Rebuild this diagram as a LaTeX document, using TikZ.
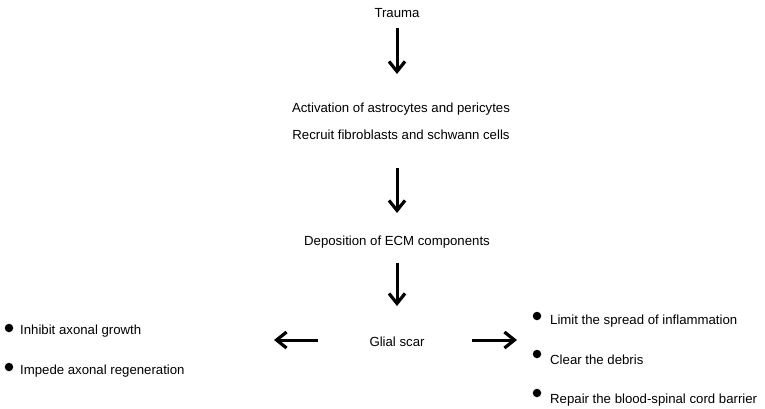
\documentclass[tikz,border=0pt]{standalone}
\usepackage{fontspec}
\setmainfont{Liberation Sans}
\usetikzlibrary{arrows.meta}
\begin{document}
\begin{tikzpicture}[x=1pt,y=-1pt,
  lbl/.style={inner sep=0pt,anchor=base,font=\fontsize{13.2}{15}\selectfont},
  item/.style={inner sep=0pt,anchor=base west,font=\fontsize{13.2}{15}\selectfont},
  dot/.style={circle,fill=black,inner sep=0pt,minimum size=8.5pt},
  flow/.style={line width=3pt,-{Straight Barb[length=10pt,width=16pt,line width=3.2pt]}}]
\useasboundingbox (0,0) rectangle (765,408);
% main column
\node[lbl] (trauma) at (397,17) {Trauma};
\node[lbl] (act) at (401,112) {Activation of astrocytes and pericytes};
\node[lbl] (rec) at (401,139) {Recruit fibroblasts and schwann cells};
\node[lbl] (dep) at (397,245) {Deposition of ECM components};
\node[lbl] (glial) at (397,346) {Glial scar};
% arrow ends
\coordinate (a1s) at (397,28);  \coordinate (a1e) at (397,74);
\coordinate (a2s) at (397,168); \coordinate (a2e) at (397,213);
\coordinate (a3s) at (397,263); \coordinate (a3e) at (397,306);
\coordinate (lfs) at (318,340); \coordinate (lfe) at (274,340);
\coordinate (rts) at (472,340); \coordinate (rte) at (517,340);
\draw[flow] (a1s) -- (a1e);
\draw[flow] (a2s) -- (a2e);
\draw[flow] (a3s) -- (a3e);
\draw[flow] (lfs) -- (lfe);
\draw[flow] (rts) -- (rte);
% left list
\node[dot] (bl1) at (9,328) {};
\node[item] (l1) at (20,334) {Inhibit axonal growth};
\node[dot] (bl2) at (9,367) {};
\node[item] (l2) at (20,374) {Impede axonal regeneration};
% right list
\node[dot] (br1) at (537,316) {};
\node[item] (r1) at (550,324) {Limit the spread of inflammation};
\node[dot] (br2) at (537,354) {};
\node[item] (r2) at (550,364) {Clear the debris};
\node[dot] (br3) at (537,393) {};
\node[item] (r3) at (550,403) {Repair the blood-spinal cord barrier};
\end{tikzpicture}
\end{document}
